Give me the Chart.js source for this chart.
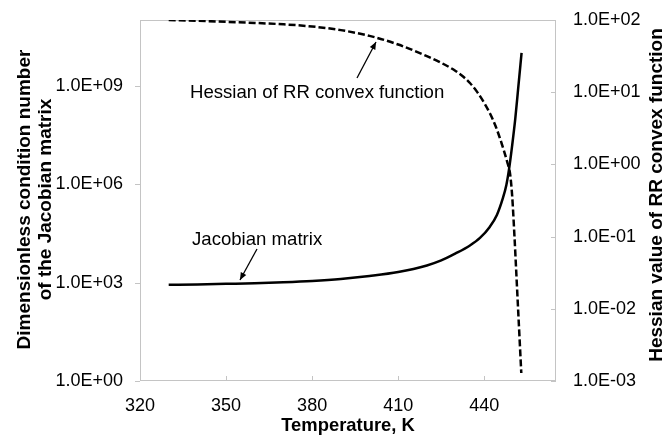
<!DOCTYPE html>
<html>
<head>
<meta charset="utf-8">
<script src="https://cdn.jsdelivr.net/npm/chart.js@4.4.1/dist/chart.umd.min.js"></script>
<style>
  html, body { margin: 0; padding: 0; background: #ffffff; }
  #wrap { width: 666px; height: 436px; }
</style>
</head>
<body>
<div id="wrap"><canvas id="c" width="666" height="436"></canvas></div>
<script>
// ---- data ----
const jacobianTemp = [330, 340, 350, 360, 370, 380, 390, 400, 410, 420, 425, 430, 435, 438.5, 441.9, 444.4, 446.4, 447.7, 448.7, 449.7, 450.8, 451.8, 453.0];
const jacobianCond = [851, 871, 912, 955, 1023, 1122, 1288, 1585, 2089, 3319, 4720, 7709, 13521, 22909, 49545, 115080, 353997, 946237, 3.12e6, 1.46e7, 9.72e7, 7.98e8, 1.0e10];

const hessianTemp = [330, 340, 350, 360, 370, 380, 390, 400, 410, 420, 425, 430, 432.5, 435, 437.5, 440, 442, 444, 446, 448, 449, 449.7, 450.5, 451.3, 452.1, 452.9];
const hessianValue = [100, 97.7, 94.4, 91.2, 87.1, 81.3, 72.4, 60.3, 45.7, 31.6, 25.5, 19.7, 16.6, 13.4, 10.1, 7.08, 5.07, 3.35, 1.98, 1.08, 0.736, 0.377, 0.105, 0.0243, 0.0056, 0.00129];

const xTickValues = [320, 350, 380, 410, 440];
const xTickLabels = ['320', '350', '380', '410', '440'];
const leftTickValues = [1, 1e3, 1e6, 1e9];
const leftTickLabels = ['1.0E+00', '1.0E+03', '1.0E+06', '1.0E+09'];
const rightTickValues = [1e-3, 1e-2, 1e-1, 1, 10, 100];
const rightTickLabels = ['1.0E-03', '1.0E-02', '1.0E-01', '1.0E+00', '1.0E+01', '1.0E+02'];

const xTitle = 'Temperature, K';
const leftTitle = ['Dimensionless condition number', 'of the Jacobian matrix'];
const rightTitle = 'Hessian value of RR convex function';
const jacobianLabel = 'Jacobian matrix';
const hessianLabel = 'Hessian of RR convex function';

const FONT = 'Arial, "Liberation Sans", Helvetica, sans-serif';
Chart.defaults.font.family = FONT;
Chart.defaults.font.size = 18;
Chart.defaults.color = '#000';

const FRAME = '#c4c4c4';

function arrow(ctx, x1, y1, x2, y2) {
  ctx.beginPath();
  ctx.moveTo(x1, y1);
  ctx.lineTo(x2, y2);
  ctx.stroke();
  const a = Math.atan2(y2 - y1, x2 - x1);
  const L = 8, w = 0.4;
  ctx.beginPath();
  ctx.moveTo(x2, y2);
  ctx.lineTo(x2 - L * Math.cos(a - w), y2 - L * Math.sin(a - w));
  ctx.lineTo(x2 - L * Math.cos(a + w), y2 - L * Math.sin(a + w));
  ctx.closePath();
  ctx.fill();
}

const decor = {
  id: 'decor',
  beforeDatasetsDraw(chart) {
    const ctx = chart.ctx;
    const a = chart.chartArea;
    const sx = chart.scales.x, sl = chart.scales.yL, sr = chart.scales.yR;
    ctx.save();
    ctx.strokeStyle = FRAME;
    ctx.lineWidth = 1;
    ctx.strokeRect(Math.round(a.left) + 0.5, Math.round(a.top) + 0.5, Math.round(a.right - a.left) - 1, Math.round(a.bottom - a.top) - 1);
    ctx.beginPath();
    leftTickValues.forEach(v => {
      const y = Math.round(sl.getPixelForValue(v)) + 0.5;
      ctx.moveTo(a.left - 5, y); ctx.lineTo(a.left, y);
    });
    xTickValues.forEach((v, i) => {
      if (i === 0) return;
      const x = Math.round(sx.getPixelForValue(v)) + 0.5;
      ctx.moveTo(x, a.bottom); ctx.lineTo(x, a.bottom - 5);
    });
    rightTickValues.forEach(v => {
      const y = Math.round(sr.getPixelForValue(v)) + 0.5;
      ctx.moveTo(a.right, y); ctx.lineTo(a.right - 5, y);
    });
    ctx.stroke();
    ctx.restore();
  },
  afterDraw(chart) {
    const ctx = chart.ctx;
    const a = chart.chartArea;
    ctx.save();
    ctx.fillStyle = '#000';
    ctx.strokeStyle = '#000';
    ctx.textAlign = 'center';
    ctx.textBaseline = 'middle';
    ctx.font = 'bold 18.4px ' + FONT;
    ctx.fillText(xTitle, (a.left + a.right) / 2, 426);
    ctx.font = 'bold 19px ' + FONT;
    ctx.save();
    ctx.translate(25, (a.top + a.bottom) / 2 - 1);
    ctx.rotate(-Math.PI / 2);
    ctx.fillText(leftTitle[0], 0, 0);
    ctx.restore();
    ctx.save();
    ctx.translate(46, (a.top + a.bottom) / 2 - 1);
    ctx.rotate(-Math.PI / 2);
    ctx.fillText(leftTitle[1], 0, 0);
    ctx.restore();
    ctx.save();
    ctx.translate(657, 195);
    ctx.rotate(-Math.PI / 2);
    ctx.fillText(rightTitle, 0, 0);
    ctx.restore();
    // annotations
    ctx.font = '18.6px ' + FONT;
    ctx.textAlign = 'left';
    ctx.textBaseline = 'alphabetic';
    ctx.fillText(hessianLabel, 190, 98);
    ctx.fillText(jacobianLabel, 192, 245);
    ctx.lineWidth = 1.3;
    arrow(ctx, 357, 78, 376, 42);
    arrow(ctx, 257, 249, 240, 280);
    ctx.restore();
  }
};

new Chart(document.getElementById('c'), {
  type: 'line',
  data: {
    datasets: [
      {
        label: 'Jacobian matrix',
        data: jacobianTemp.map((t, i) => ({ x: t, y: jacobianCond[i] })),
        yAxisID: 'yL',
        borderColor: '#000',
        borderWidth: 2.5,
        pointRadius: 0,
        fill: false,
        cubicInterpolationMode: 'monotone'
      },
      {
        label: 'Hessian of RR convex function',
        data: hessianTemp.map((t, i) => ({ x: t, y: hessianValue[i] })),
        yAxisID: 'yR',
        borderColor: '#000',
        borderWidth: 2.5,
        borderDash: [7, 3],
        pointRadius: 0,
        fill: false,
        cubicInterpolationMode: 'monotone'
      }
    ]
  },
  options: {
    responsive: false,
    animation: false,
    layout: { padding: { top: 20, left: 0, right: 0, bottom: 0 } },
    plugins: { legend: { display: false }, tooltip: { enabled: false } },
    scales: {
      x: {
        type: 'linear',
        min: 320,
        max: 465,
        grid: { display: false },
        border: { display: false },
        afterBuildTicks: s => { s.ticks = xTickValues.map(v => ({ value: v })); },
        afterFit: s => { s.height = 55; },
        ticks: { padding: 6, maxRotation: 0, autoSkip: false, callback: (v, i) => xTickLabels[i] }
      },
      yL: {
        type: 'logarithmic',
        position: 'left',
        min: 1,
        max: 1e11,
        grid: { display: false },
        border: { display: false },
        afterBuildTicks: s => { s.ticks = leftTickValues.map(v => ({ value: v })); },
        afterFit: s => { s.width = 140; },
        ticks: { padding: 9, autoSkip: false, callback: (v, i) => leftTickLabels[i] }
      },
      yR: {
        type: 'logarithmic',
        position: 'right',
        min: 1e-3,
        max: 1e2,
        grid: { display: false },
        border: { display: false },
        afterBuildTicks: s => { s.ticks = rightTickValues.map(v => ({ value: v })); },
        afterFit: s => { s.width = 110; },
        ticks: { padding: 9, autoSkip: false, callback: (v, i) => rightTickLabels[i] }
      }
    }
  },
  plugins: [decor]
});
</script>
</body>
</html>
